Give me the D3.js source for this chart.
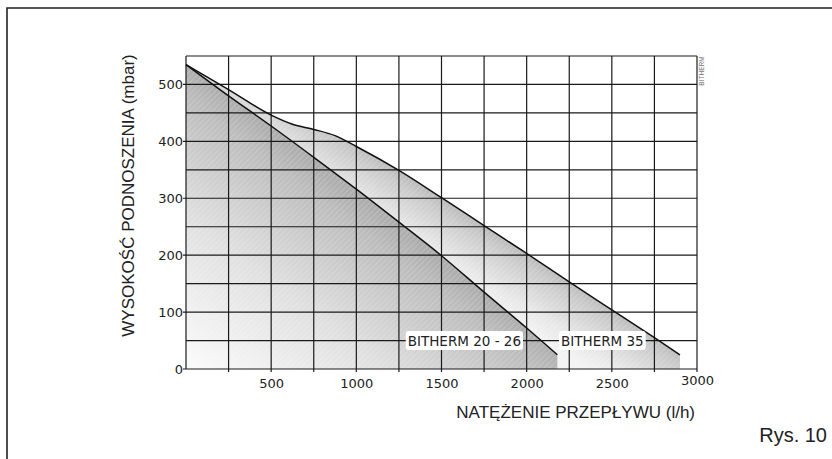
<!DOCTYPE html>
<html><head><meta charset="utf-8">
<script src="https://cdn.jsdelivr.net/npm/d3@7"></script>
<style>
html,body{margin:0;padding:0;background:#fff;}
svg{display:block;}
</style></head>
<body>
<svg id="chart" width="832" height="459"></svg>
<script>
// ---- data ----
const flow2026 = [0, 250, 500, 750, 1000, 1250, 1500, 1750, 2000, 2180];
const head2026 = [535, 480, 427, 372, 316, 258, 199, 135, 72, 25];
const flow35 = [0, 250, 500, 625, 750, 875, 1000, 1250, 1500, 1750, 2000, 2250, 2500, 2750, 2900];
const head35 = [535, 491, 446, 430, 421, 410, 391, 349, 301, 252, 203, 153, 104, 55, 25];
const xTicks = [500, 1000, 1500, 2000, 2500, 3000];
const yTicks = [0, 100, 200, 300, 400, 500];
const seriesNames = ["BITHERM 20 - 26", "BITHERM 35"];
const labelFlow = [1290, 2190];
const labelHead = [50, 50];
const xTitle = "NATĘŻENIE PRZEPŁYWU (l/h)";
const yTitle = "WYSOKOŚĆ PODNOSZENIA (mbar)";
const figLabel = "Rys. 10";
const brand = "BITHERM";

const svg = d3.select("#chart");
const x = d3.scaleLinear().domain([0, 3000]).range([186, 697]);
const y = d3.scaleLinear().domain([0, 550]).range([369, 56]);

// frame
svg.append("path").attr("d", "M7,470V8H840").attr("fill", "none")
  .attr("stroke", "#222").attr("stroke-width", 1.6);

const defs = svg.append("defs");
function lin(id, x1, y1, x2, y2, stops) {
  const g = defs.append("linearGradient").attr("id", id)
    .attr("gradientUnits", "userSpaceOnUse")
    .attr("x1", x1).attr("y1", y1).attr("x2", x2).attr("y2", y2);
  stops.forEach(s => g.append("stop").attr("offset", s[0]).attr("stop-color", s[1]));
}
lin("gInner", 333, 179, 186, 369, [[0, "#adadad"], [0.1, "#bcbcbc"], [0.5, "#e0e0e0"], [1, "#fbfbfb"]]);
lin("gOuter", 540, 262, 505, 316, [[0, "#bababa"], [0.15, "#c8c8c8"], [0.7, "#e8e8e8"], [1, "#f3f3f3"]]);
const pat = defs.append("pattern").attr("id", "hatch").attr("patternUnits", "userSpaceOnUse")
  .attr("width", 4).attr("height", 4).attr("patternTransform", "rotate(45)");
pat.append("rect").attr("width", 1.2).attr("height", 4).attr("fill", "#fff").attr("opacity", 0.18);

const curve = d3.curveMonotoneX;
const d35 = flow35.map((f, i) => [f, head35[i]]);
const d26 = flow2026.map((f, i) => [f, head2026[i]]);
const area = d3.area().x(d => x(d[0])).y0(y(0)).y1(d => y(d[1])).curve(curve);
const line = d3.line().x(d => x(d[0])).y(d => y(d[1])).curve(curve);

svg.append("path").datum(d35).attr("d", area).attr("fill", "url(#gOuter)");
svg.append("path").datum(d35).attr("d", area).attr("fill", "url(#hatch)");
svg.append("path").datum(d26).attr("d", area).attr("fill", "url(#gInner)");
svg.append("path").datum(d26).attr("d", area).attr("fill", "url(#hatch)");

// grid
const grid = svg.append("g").attr("stroke", "#1a1a1a").attr("stroke-width", 1.2).attr("fill", "none");
d3.range(0, 3001, 250).forEach(v => {
  grid.append("line").attr("x1", x(v)).attr("x2", x(v)).attr("y1", y(550)).attr("y2", y(0) + (v > 0 ? 3 : 0))
    .attr("stroke", v === 3000 ? "#555" : null).attr("stroke-width", v === 3000 ? 1.6 : null);
});
d3.range(0, 551, 50).forEach(v => {
  grid.append("line").attr("y1", y(v)).attr("y2", y(v)).attr("x1", x(0) - (v % 100 === 0 ? 3 : 0)).attr("x2", x(3000));
});

const fmt = d3.format("d");
const xAxis = svg.append("g").attr("transform", `translate(0,${y(0)})`)
  .call(d3.axisBottom(x).tickValues(xTicks).tickFormat(fmt).tickSize(0).tickPadding(10));
xAxis.select(".domain").remove();
xAxis.selectAll("text").attr("font-family", "DejaVu Sans").attr("font-size", 13).attr("fill", "#222")
  .attr("dy", (d) => d === 3000 ? "0.45em" : "0.71em");
const yAxis = svg.append("g").attr("transform", `translate(${x(0)},0)`)
  .call(d3.axisLeft(y).tickValues(yTicks).tickFormat(fmt).tickSize(0).tickPadding(3));
yAxis.select(".domain").remove();
yAxis.selectAll("text").attr("font-family", "DejaVu Sans").attr("font-size", 13).attr("fill", "#222");

// curves
svg.append("path").datum(d35).attr("d", line).attr("fill", "none").attr("stroke", "#111").attr("stroke-width", 1.5);
svg.append("path").datum(d26).attr("d", line).attr("fill", "none").attr("stroke", "#111").attr("stroke-width", 1.5);

// series labels
seriesNames.forEach((name, i) => {
  const g = svg.append("g");
  const t = g.append("text").attr("x", x(labelFlow[i]) + 2).attr("y", y(labelHead[i]) + 5)
    .attr("font-family", "DejaVu Sans").attr("font-size", 13.5).attr("fill", "#222").text(name);
  const bb = t.node().getBBox();
  g.insert("rect", "text").attr("x", bb.x - 2).attr("y", y(labelHead[i]) - 9.5)
    .attr("width", bb.width + 4).attr("height", 19).attr("rx", 3).attr("fill", "#fff");
});

// titles
svg.append("text").attr("x", 695).attr("y", 418).attr("text-anchor", "end")
  .attr("font-family", "Liberation Sans, Arial, sans-serif").attr("font-size", 17).attr("fill", "#222").text(xTitle);
svg.append("text").attr("transform", "translate(134,195.5) rotate(-90)").attr("text-anchor", "middle")
  .attr("font-family", "Liberation Sans, Arial, sans-serif").attr("font-size", 17).attr("fill", "#222").text(yTitle);
svg.append("text").attr("x", 827).attr("y", 442).attr("text-anchor", "end")
  .attr("font-family", "Liberation Sans, Arial, sans-serif").attr("font-size", 20).attr("fill", "#222").text(figLabel);
svg.append("text").attr("transform", "translate(704,71) rotate(-90)").attr("text-anchor", "middle")
  .attr("font-family", "Liberation Sans, Arial, sans-serif").attr("font-size", 6.5).attr("fill", "#777").text(brand);
</script>
</body></html>
